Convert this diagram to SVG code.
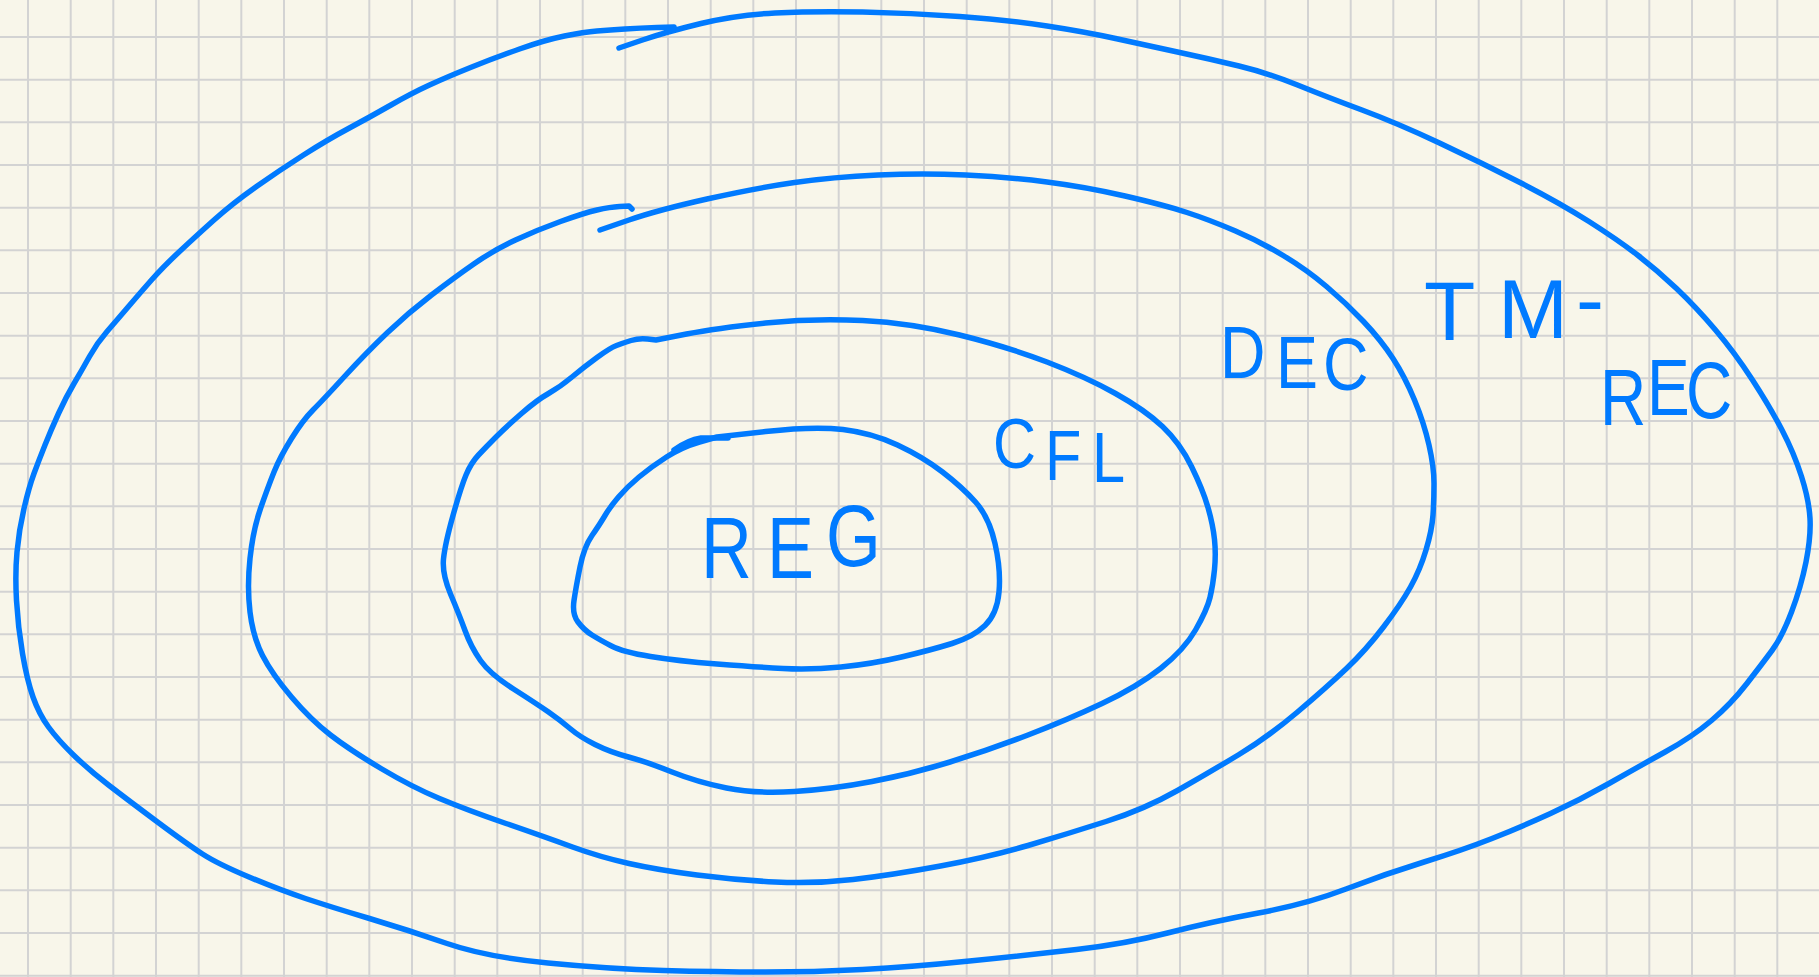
<svg xmlns="http://www.w3.org/2000/svg" width="1819" height="977" viewBox="0 0 1819 977">
<style>
.bg{fill:#f8f6ea}
.grid{fill:none;stroke:#d3d3d3;stroke-width:2}
.ink{fill:none;stroke:#007aff;stroke-width:5.5;stroke-linecap:round;stroke-linejoin:round}
.lbl{fill:#007aff;font-family:"Liberation Sans","DejaVu Sans",sans-serif}
</style>
<rect class="bg" x="0" y="0" width="1819" height="977"/>
<path class="grid" d="M28 0V977M70.7 0V977M113.3 0V977M156 0V977M198.7 0V977M241.3 0V977M284 0V977M326.7 0V977M369.3 0V977M412 0V977M454.7 0V977M497.3 0V977M540 0V977M582.7 0V977M625.3 0V977M668 0V977M710.7 0V977M753.3 0V977M796 0V977M838.7 0V977M881.3 0V977M924 0V977M966.7 0V977M1009.3 0V977M1052 0V977M1094.7 0V977M1137.3 0V977M1180 0V977M1222.7 0V977M1265.3 0V977M1308 0V977M1350.7 0V977M1393.3 0V977M1436 0V977M1478.7 0V977M1521.3 0V977M1564 0V977M1606.7 0V977M1649.3 0V977M1692 0V977M1734.7 0V977M1777.3 0V977
M0 37H1819M0 79.7H1819M0 122.3H1819M0 165H1819M0 207.7H1819M0 250.3H1819M0 293H1819M0 335.7H1819M0 378.3H1819M0 421H1819M0 463.7H1819M0 506.3H1819M0 549H1819M0 591.7H1819M0 634.3H1819M0 677H1819M0 719.7H1819M0 762.3H1819M0 805H1819M0 847.7H1819M0 890.3H1819M0 933H1819M0 975.7H1819"/>
<g id="tm">
<path class="ink" d="M619 48 L642.5 40 Q666 32 701 23.5 Q736 15 775 13 Q814 11 862.5 12 Q911 13 959.5 16.5 Q1008 20 1047 26 Q1086 32 1115.5 38.5 Q1145 45 1177.5 52 Q1210 59 1239 66 Q1268 73 1297.5 85 Q1327 97 1362 110 Q1397 123 1439.5 143 Q1482 163 1521 183 Q1560 203 1589 221.5 Q1618 240 1637.5 255 Q1657 270 1676.5 288.5 Q1696 307 1715.5 330 Q1735 353 1752.5 380 Q1770 407 1782 430 Q1794 453 1801.5 476.5 Q1809 500 1810 518.5 Q1811 537 1806 562 Q1801 587 1791.5 612 Q1782 637 1772 650.5 Q1762 664 1746.5 684 Q1731 704 1711.5 720.5 Q1692 737 1665 752 Q1638 767 1609 783.5 Q1580 800 1550.5 813.5 Q1521 827 1492 838.5 Q1463 850 1424 862 Q1385 874 1346 889 Q1307 904 1258.5 913 Q1210 922 1167.5 933 Q1125 944 1076.5 949.5 Q1028 955 969.5 961 Q911 967 862.5 969.5 Q814 972 765.5 972 Q717 972 663.5 970.5 Q610 969 548 963 Q486 957 447 943.5 Q408 930 369.5 918.5 Q331 907 305.5 898.5 Q280 890 249 877 Q218 864 202.5 854 Q187 844 157.5 822 Q128 800 108.5 785 Q89 770 73.5 755 Q58 740 48.5 727 Q39 714 33 697 Q27 680 22.5 653.5 Q18 627 16.5 600.5 Q15 574 17 552 Q19 530 24 508.5 Q29 487 34 473.5 Q39 460 45 445 Q51 430 58.5 413.5 Q66 397 74 383.5 Q82 370 89.5 356.5 Q97 343 107 331.5 Q117 320 128.5 306.5 Q140 293 151.5 280 Q163 267 179 252 Q195 237 214 220 Q233 203 256.5 186.5 Q280 170 303.5 155 Q327 140 348.5 128.5 Q370 117 391 105 Q412 93 429.5 85 Q447 77 470.5 67.5 Q494 58 519.5 49 Q545 40 564.5 36 Q584 32 597 31 Q610 30 625 29 Q640 28 657 27.5 L674 27"/>
<text class="lbl" font-size="84" x="1424 1498 1576" y="340 338 328">TM-</text>
<text class="lbl" font-size="80" transform="matrix(0.8 0 0 1 1600 0)" x="0 58.75 107.5" y="425 415 418">REC</text>
</g>
<g id="dec">
<path class="ink" d="M600 230 L629 220 Q658 210 707 199 Q756 188 794.5 182.5 Q833 177 878 175 Q923 173 965.5 175 Q1008 177 1047 182 Q1086 187 1125 196 Q1164 205 1187 212.5 Q1210 220 1235.5 231 Q1261 242 1284 256 Q1307 270 1326.5 286.5 Q1346 303 1363.5 321.5 Q1381 340 1393 358.5 Q1405 377 1414.5 400 Q1424 423 1429 445 Q1434 467 1434 483.5 Q1434 500 1433 515 Q1432 530 1426 550 Q1420 570 1410.5 587 Q1401 604 1383.5 627 Q1366 650 1346.5 668.5 Q1327 687 1297.5 712 Q1268 737 1239 754.5 Q1210 772 1177.5 790.5 Q1145 809 1106 821.5 Q1067 834 1028 845.5 Q989 857 940.5 866 Q892 875 853 879.5 Q814 884 775 882 Q736 880 697 875 Q658 870 629 863.5 Q600 857 572.5 847 Q545 837 506 823.5 Q467 810 439.5 798.5 Q412 787 381 768.5 Q350 750 330.5 735 Q311 720 291.5 697 Q272 674 262.5 655.5 Q253 637 250 612 Q247 587 250 558.5 Q253 530 260.5 508.5 Q268 487 274 472 Q280 457 291.5 438.5 Q303 420 313 410 Q323 400 344.5 376.5 Q366 353 387 333 Q408 313 431.5 295 Q455 277 474.5 263.5 Q494 250 515.5 240 Q537 230 560.5 221.5 Q584 213 597 210 Q610 207 619.5 206.5 L629 206 L632 209"/>
<text class="lbl" font-size="74" transform="matrix(0.85 0 0 1 1220 0)" x="0 65.9 121.2" y="378 388 390">DEC</text>
</g>
<g id="cfl">
<path class="ink" d="M656 340 L686.5 334 Q717 328 765.5 323 Q814 318 862.5 320.5 Q911 323 959.5 335 Q1008 347 1047 362 Q1086 377 1115.5 393.5 Q1145 410 1162.5 426.5 Q1180 443 1191.5 466.5 Q1203 490 1208 507.5 Q1213 525 1214.5 539.5 Q1216 554 1214.5 569.5 Q1213 585 1210 597.5 Q1207 610 1195.5 630 Q1184 650 1160.5 668.5 Q1137 687 1102 703.5 Q1067 720 1028 735 Q989 750 950 762 Q911 774 872 781.5 Q833 789 794.5 791.5 Q756 794 726.5 788 Q697 782 672 772 Q647 762 628.5 757 Q610 752 595 744.5 Q580 737 570 728.5 Q560 720 548.5 712 Q537 704 513.5 689 Q490 674 480.5 660.5 Q471 647 465 630.5 Q459 614 450.5 594 Q442 574 443.5 559 Q445 544 453 515.5 Q461 487 466 475 Q471 463 478.5 455 Q486 447 496 437 Q506 427 521.5 413.5 Q537 400 548.5 393.5 Q560 387 572 377 Q584 367 597 357.5 Q610 348 616.5 345.5 Q623 343 631 340.5 Q639 338 647.5 339 L656 340"/>
<text class="lbl" font-size="70" transform="matrix(0.85 0 0 1 993 0)" x="0 61.2 116.5" y="468 480 482">CFL</text>
</g>
<g id="reg">
<path class="ink" d="M717 437 L765.5 431.5 Q814 426 843 429.5 Q872 433 897.5 445 Q923 457 942.5 472 Q962 487 975.5 502 Q989 517 995 543.5 Q1001 570 999 592 Q997 614 985 625.5 Q973 637 952 643.5 Q931 650 901.5 657 Q872 664 841 667 Q810 670 783 668.5 Q756 667 717 664 Q678 661 650.5 656.5 Q623 652 611.5 646 Q600 640 592 635 Q584 630 578 622 Q572 614 574 600.5 Q576 587 580 567 Q584 547 592 535.5 Q600 524 605 515.5 Q610 507 618.5 497 Q627 487 639 477 Q651 467 666.5 457 Q682 447 699.5 442 L717 437"/>
<path class="ink" d="M674 450 Q688 440 701 438 L728 438"/>
<text class="lbl" font-size="88" transform="matrix(0.8 0 0 1 701 0)" x="0 82.5 156.25" y="578 578 566">REG</text>
</g>
<g id="connectors"/>
</svg>
